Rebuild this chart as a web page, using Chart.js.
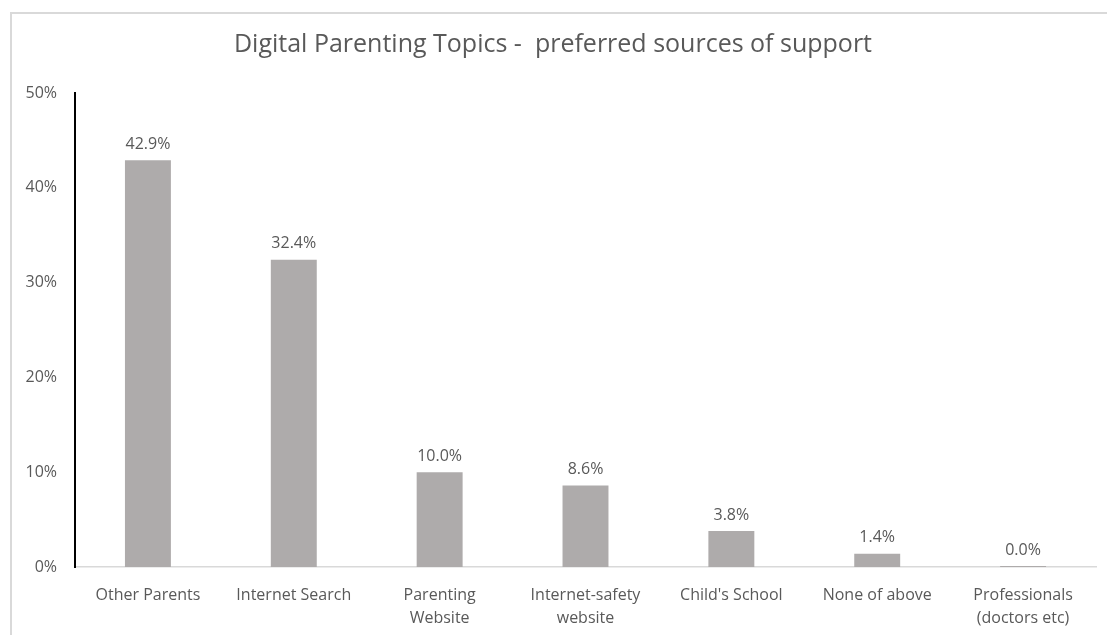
<!DOCTYPE html>
<html>
<head>
<meta charset="utf-8">
<script src="https://cdn.jsdelivr.net/npm/chart.js@4/dist/chart.umd.min.js"></script>
<style>
  html, body { margin: 0; padding: 0; background: #fff; }
  #wrap { position: relative; width: 1107px; height: 635px; overflow: hidden; }
  #frame { position: absolute; left: 10px; top: 12px; width: 1110px; height: 700px; border: 2px solid #d9d9d9; box-sizing: border-box; }
  #chart { position: absolute; left: 0; top: 0; }
</style>
</head>
<body>
<div id="wrap">
  <div id="frame"></div>
  <canvas id="chart" width="1107" height="635"></canvas>
</div>
<script>
const categories = [
  'Other Parents',
  'Internet Search',
  ['Parenting', 'Website'],
  ['Internet-safety', 'website'],
  "Child's School",
  'None of above',
  ['Professionals', '(doctors etc)'],
];
const shares = [42.9, 32.4, 10.0, 8.6, 3.8, 1.4, 0.0];
const yTicks = [0, 10, 20, 30, 40, 50];

const textColor = '#595959';
const fontFamily = "'Open Sans', 'Noto Sans', sans-serif";

// draws the value above each bar
const valueLabels = {
  id: 'valueLabels',
  afterDatasetsDraw(chart) {
    const { ctx } = chart;
    const meta = chart.getDatasetMeta(0);
    ctx.save();
    ctx.fillStyle = textColor;
    ctx.font = `16px ${fontFamily}`;
    ctx.textAlign = 'center';
    ctx.textBaseline = 'bottom';
    meta.data.forEach((bar, i) => {
      ctx.fillText(shares[i].toFixed(1) + '%', bar.x, bar.y - 8);
    });
    ctx.restore();
  },
};

new Chart(document.getElementById('chart'), {
  type: 'bar',
  data: {
    labels: categories,
    datasets: [{
      data: shares,
      backgroundColor: '#aeabab',
      categoryPercentage: 1,
      barPercentage: 0.315,
      minBarLength: 1,
    }],
  },
  options: {
    responsive: false,
    animation: false,
    layout: { padding: { left: 10, right: 11, top: 0, bottom: 8 } },
    plugins: {
      legend: { display: false },
      tooltip: { enabled: false },
      title: {
        display: true,
        text: 'Digital Parenting Topics -  preferred sources of support',
        color: textColor,
        font: { family: fontFamily, size: 25, weight: 'normal', lineHeight: 1.2 },
        padding: { top: 30, bottom: 33 },
      },
    },
    scales: {
      x: {
        grid: { display: false, drawTicks: false },
        border: { color: '#d9d9d9', width: 1.5 },
        ticks: {
          color: textColor,
          font: { family: fontFamily, size: 16, lineHeight: 1.45 },
          padding: 17,
          maxRotation: 0,
          autoSkip: false,
        },
        afterFit: (scale) => { scale.height = 60; },
      },
      y: {
        min: 0,
        max: 50,
        grid: { display: false, drawTicks: false },
        border: { color: '#000', width: 2 },
        afterBuildTicks: (scale) => { scale.ticks = yTicks.map((v) => ({ value: v })); },
        ticks: {
          color: textColor,
          font: { family: fontFamily, size: 16 },
          padding: 18,
          callback: (v) => v + '%',
        },
        afterFit: (scale) => { scale.width = 65; },
      },
    },
  },
  plugins: [valueLabels],
});
</script>
</body>
</html>
